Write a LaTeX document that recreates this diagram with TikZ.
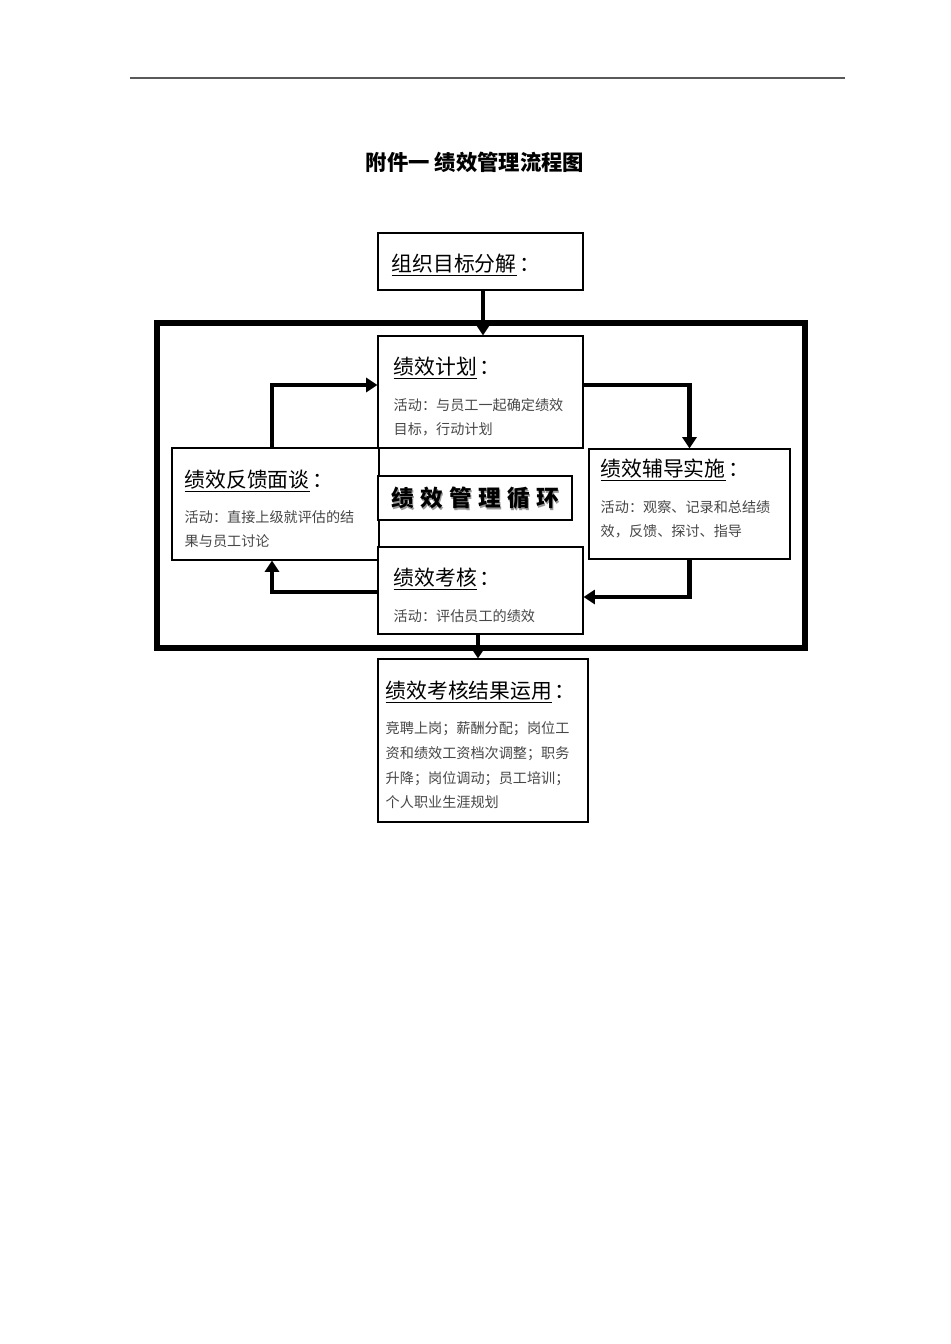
\documentclass[tikz,border=0pt]{standalone}
\usepackage{fontspec}
\usepackage{tikz}
\usetikzlibrary{arrows.meta}

\newfontfamily\cjk{Noto Sans CJK SC}
\newfontfamily\cyclefont[LetterSpace=28]{Noto Sans CJK SC}
\newcommand{\colonsp}{\hspace{2pt}：}

\tikzset{
  box/.style={draw, line width=0.8pt, fill=white, inner sep=0pt},
  head/.style={anchor=base west, inner sep=0pt, font=\cjk\fontsize{15.6}{18}\selectfont},
  body/.style={anchor=base west, inner sep=0pt, align=left, text=black!72,
    font=\cjk\fontsize{10.6}{18.5}\selectfont},
  flow/.style={line width=3.2pt, -{Triangle[width=10.5pt,length=8.5pt]}},
  frame/.style={line width=3.8pt},
}

\begin{document}
\begin{tikzpicture}[x=0.75pt,y=-0.75pt]
  \fill[white] (0,0) rectangle (950,1344);
  \useasboundingbox (0,0) rectangle (950,1344);

  % page rule and title
  \draw[black!65, line width=0.9pt] (130,78) -- (845,78);
  \node[font=\cjk\bfseries\fontsize{16}{18}\selectfont] (title) at (475,162) {附件一\ 绩效管理流程图};

  % cycle frame
  \draw[frame] (157,323) rectangle (805,648);

  % boxes
  \node[box, minimum width=205*0.75pt, minimum height=57*0.75pt] (org) at (480.5,261.5) {};
  \node[box, minimum width=205*0.75pt, minimum height=112*0.75pt] (plan) at (480.5,392) {};
  \node[box, minimum width=201*0.75pt, minimum height=110*0.75pt] (coach) at (689.5,504) {};
  \node[box, minimum width=207*0.75pt, minimum height=112*0.75pt] (feed) at (275.5,504) {};
  \node[box, minimum width=194*0.75pt, minimum height=44*0.75pt] (cycle) at (475,498) {};
  \node[box, minimum width=205*0.75pt, minimum height=87*0.75pt] (appr) at (480.5,590.5) {};
  \node[box, minimum width=210*0.75pt, minimum height=163*0.75pt] (result) at (483,740.5) {};

  % texts (base of a body node = its last line)
  \node[head] (org-h) at ([shift={(14,39)}]org.north west) {\underline{组织目标分解}\colonsp};

  \node[head] (plan-h) at ([shift={(16,39)}]plan.north west) {\underline{绩效计划}\colonsp};
  \node[body] (plan-b) at ([shift={(16,99.2)}]plan.north west) {活动：与员工一起确定绩效\\目标，行动计划};

  \node[head] (coach-h) at ([shift={(12,28)}]coach.north west) {\underline{绩效辅导实施}\colonsp};
  \node[body] (coach-b) at ([shift={(12,88.2)}]coach.north west) {活动：观察、记录和总结绩\\效，反馈、探讨、指导};

  \node[head] (feed-h) at ([shift={(13,40)}]feed.north west) {\underline{绩效反馈面谈}\colonsp};
  \node[body] (feed-b) at ([shift={(13,99.2)}]feed.north west) {活动：直接上级就评估的结\\果与员工讨论};

  \node[text=black!40, font=\cyclefont\bfseries\fontsize{17}{19}\selectfont] (cycle-s) at ([shift={(1.5,1.5)}]cycle.center) {绩效管理循环};
  \node[font=\cyclefont\bfseries\fontsize{17}{19}\selectfont] (cycle-t) at (cycle.center) {绩效管理循环};

  \node[head] (appr-h) at ([shift={(16,39)}]appr.north west) {\underline{绩效考核}\colonsp};
  \node[body] (appr-b) at ([shift={(16,75)}]appr.north west) {活动：评估员工的绩效};

  \node[head] (result-h) at ([shift={(8,40)}]result.north west) {\underline{绩效考核结果运用}\colonsp};
  \node[body] (result-b) at ([shift={(8,149.5)}]result.north west) {竞聘上岗；薪酬分配；岗位工\\资和绩效工资档次调整；职务\\升降；岗位调动；员工培训；\\个人职业生涯规划};

  % connectors
  \draw[flow] ([shift={(2.5,0)}]org.south) -- ([shift={(2.5,0)}]plan.north);
  \draw[flow] ([shift={(0,-7)}]plan.east) -| (coach.north);
  \draw[flow] (coach.south) |- ([shift={(0,6.5)}]appr.east);
  \draw[flow] ([shift={(0,1.5)}]appr.west) -| ([shift={(-3.5,0)}]feed.south);
  \draw[flow] ([shift={(-3.5,0)}]feed.north) |- ([shift={(0,-7)}]plan.west);
  \draw[flow] ([shift={(-2.5,0)}]appr.south) -- ([shift={(-2.5,0)}]appr.south |- result.north);
\end{tikzpicture}
\end{document}
